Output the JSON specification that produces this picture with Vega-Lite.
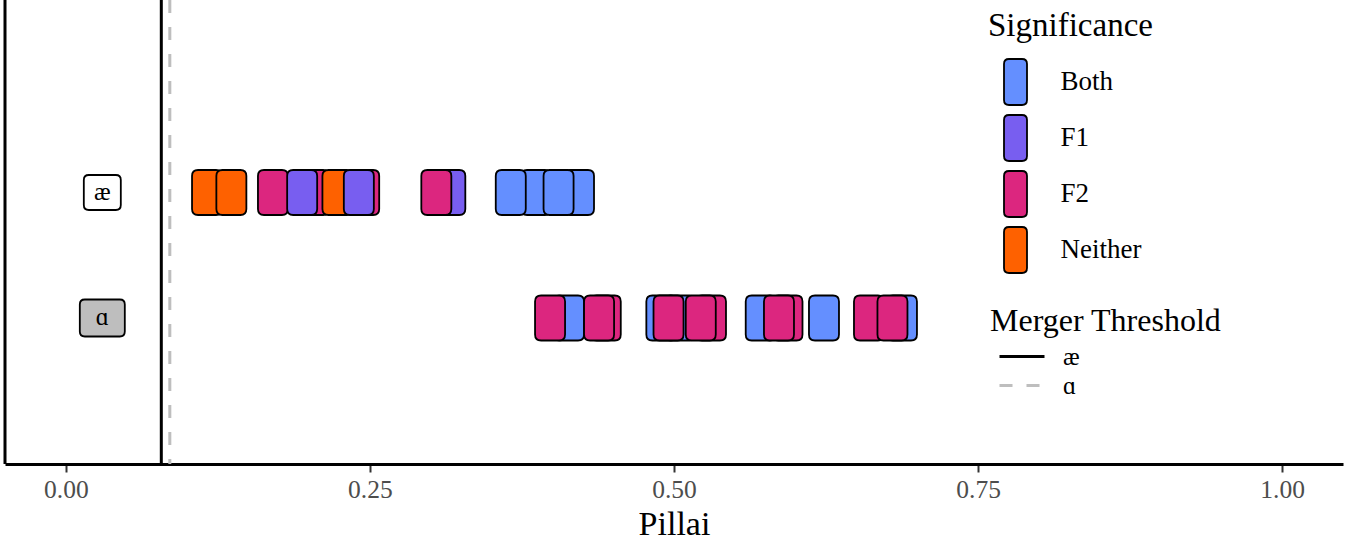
{
  "$schema": "https://vega.github.io/schema/vega-lite/v6.json",
  "width": 1338,
  "height": 464,
  "autosize": {"type": "none"},
  "padding": {"left": 5, "top": 0, "right": 7, "bottom": 81},
  "config": {"view": {"stroke": null}, "font": "Liberation Serif"},
  "datasets": {
    "thresholds": [
      {"threshold": "æ", "pillai": 0.0785},
      {"threshold": "ɑ", "pillai": 0.0855}
    ],
    "vowels": [
      {"vowel": "æ"},
      {"vowel": "ɑ"}
    ],
    "tokens": [
      {"vowel": "æ", "pillai": 0.1161, "sig": "Neither"},
      {"vowel": "æ", "pillai": 0.1361, "sig": "Neither"},
      {"vowel": "æ", "pillai": 0.1703, "sig": "F2"},
      {"vowel": "æ", "pillai": 0.2453, "sig": "F2"},
      {"vowel": "æ", "pillai": 0.2042, "sig": "F2"},
      {"vowel": "æ", "pillai": 0.1943, "sig": "F1"},
      {"vowel": "æ", "pillai": 0.2233, "sig": "Neither"},
      {"vowel": "æ", "pillai": 0.2409, "sig": "F1"},
      {"vowel": "æ", "pillai": 0.3161, "sig": "F1"},
      {"vowel": "æ", "pillai": 0.3046, "sig": "F2"},
      {"vowel": "æ", "pillai": 0.3866, "sig": "Both"},
      {"vowel": "æ", "pillai": 0.4219, "sig": "Both"},
      {"vowel": "æ", "pillai": 0.3658, "sig": "Both"},
      {"vowel": "æ", "pillai": 0.4051, "sig": "Both"},
      {"vowel": "ɑ", "pillai": 0.4137, "sig": "Both"},
      {"vowel": "ɑ", "pillai": 0.3981, "sig": "F2"},
      {"vowel": "ɑ", "pillai": 0.4439, "sig": "F2"},
      {"vowel": "ɑ", "pillai": 0.4384, "sig": "F2"},
      {"vowel": "ɑ", "pillai": 0.4896, "sig": "Both"},
      {"vowel": "ɑ", "pillai": 0.505, "sig": "Both"},
      {"vowel": "ɑ", "pillai": 0.4955, "sig": "F2"},
      {"vowel": "ɑ", "pillai": 0.5304, "sig": "F2"},
      {"vowel": "ɑ", "pillai": 0.522, "sig": "F2"},
      {"vowel": "ɑ", "pillai": 0.5713, "sig": "Both"},
      {"vowel": "ɑ", "pillai": 0.5933, "sig": "F2"},
      {"vowel": "ɑ", "pillai": 0.5863, "sig": "F2"},
      {"vowel": "ɑ", "pillai": 0.6233, "sig": "Both"},
      {"vowel": "ɑ", "pillai": 0.6874, "sig": "Both"},
      {"vowel": "ɑ", "pillai": 0.6603, "sig": "F2"},
      {"vowel": "ɑ", "pillai": 0.6796, "sig": "F2"}
    ]
  },
  "layer": [
    {
      "data": {"values": [{"axis": "y"}]},
      "mark": {"type": "rule", "strokeWidth": 3, "color": "black"},
      "encoding": {
        "x": {"datum": -0.05, "type": "quantitative"}
      }
    },
    {
      "data": {"name": "thresholds"},
      "mark": {"type": "rule", "strokeWidth": 3},
      "encoding": {
        "x": {
          "field": "pillai", "type": "quantitative",
          "scale": {"domain": [-0.05, 1.05], "nice": false, "zero": false},
          "axis": {
            "title": "Pillai", "values": [0, 0.25, 0.5, 0.75, 1], "format": ".2f",
            "grid": false, "domainColor": "black", "domainWidth": 3,
            "tickColor": "#333333", "tickWidth": 2, "tickSize": 8,
            "labelFont": "Liberation Serif", "labelFontSize": 25.5, "labelColor": "#4d4d4d", "labelPadding": 5,
            "titleFont": "Liberation Serif", "titleFontSize": 34, "titleFontWeight": "normal", "titleColor": "black", "titlePadding": 5
          }
        },
        "stroke": {
          "field": "threshold", "type": "nominal",
          "scale": {"domain": ["æ", "ɑ"], "range": ["black", "#bebebe"]},
          "legend": {
            "title": "Merger Threshold", "orient": "none", "legendX": 985, "legendY": 306, "padding": 0, "titleLimit": 500,
            "symbolType": "M-1.875,0L1.875,0", "symbolSize": 576, "symbolStrokeWidth": 3, "symbolFillColor": "transparent",
            "symbolOffset": 18.5, "labelOffset": 27.5, "rowPadding": 2, "titlePadding": 5,
            "titleFont": "Liberation Serif", "titleFontSize": 32, "titleFontWeight": "normal", "titleColor": "black",
            "labelFont": "Liberation Serif", "labelFontSize": 25, "labelColor": "black",
            "encode": {"symbols": {"update": {"strokeDash": {"signal": "datum.value === 'ɑ' ? [7.5, 7] : [1, 0]"}}}}
          }
        },
        "strokeDash": {
          "field": "threshold", "type": "nominal",
          "scale": {"domain": ["æ", "ɑ"], "range": [[1, 0], [13, 14]]},
          "legend": {
            "title": "Merger Threshold", "orient": "none", "legendX": 985, "legendY": 306, "padding": 0, "titleLimit": 500,
            "symbolType": "M-1.875,0L1.875,0", "symbolSize": 576, "symbolStrokeWidth": 3, "symbolFillColor": "transparent",
            "symbolOffset": 18.5, "labelOffset": 27.5, "rowPadding": 2, "titlePadding": 5,
            "titleFont": "Liberation Serif", "titleFontSize": 32, "titleFontWeight": "normal", "titleColor": "black",
            "labelFont": "Liberation Serif", "labelFontSize": 25, "labelColor": "black",
            "encode": {"symbols": {"update": {"strokeDash": {"signal": "datum.value === 'ɑ' ? [7.5, 7] : [1, 0]"}}}}
          }
        }
      }
    },
    {
      "data": {"name": "vowels"},
      "transform": [{"filter": "datum.vowel === 'æ'"}],
      "mark": {
        "type": "point", "filled": true, "opacity": 1, "fill": "white", "stroke": "black", "strokeWidth": 1.8, "size": 1225,
        "shape": "M-1.057,-0.714Q-1.057,-1,-0.771,-1L0.771,-1Q1.057,-1,1.057,-0.714L1.057,0.714Q1.057,1,0.771,1L-0.771,1Q-1.057,1,-1.057,0.714Z"
      },
      "encoding": {
        "x": {"datum": 0.03, "type": "quantitative"},
        "y": {"field": "vowel", "type": "nominal", "scale": {"type": "point", "domain": ["æ", "ɑ"], "range": [192.5, 318], "padding": 0}, "axis": null}
      }
    },
    {
      "data": {"name": "vowels"},
      "transform": [{"filter": "datum.vowel === 'ɑ'"}],
      "mark": {
        "type": "point", "filled": true, "opacity": 1, "fill": "#bebebe", "stroke": "black", "strokeWidth": 1.8, "size": 1369,
        "shape": "M-1.216,-0.73Q-1.216,-1,-0.946,-1L0.946,-1Q1.216,-1,1.216,-0.73L1.216,0.73Q1.216,1,0.946,1L-0.946,1Q-1.216,1,-1.216,0.73Z"
      },
      "encoding": {
        "x": {"datum": 0.03, "type": "quantitative"},
        "y": {"field": "vowel", "type": "nominal"}
      }
    },
    {
      "data": {"name": "vowels"},
      "mark": {"type": "text", "font": "Liberation Serif", "fontSize": 25, "color": "black", "baseline": "middle", "align": "center", "dy": -1},
      "encoding": {
        "x": {"datum": 0.03, "type": "quantitative"},
        "y": {"field": "vowel", "type": "nominal"},
        "text": {"field": "vowel"}
      }
    },
    {
      "data": {"name": "tokens"},
      "mark": {
        "type": "point", "filled": true, "opacity": 1, "stroke": "black", "strokeWidth": 1.8, "size": 2025,
        "shape": "M-0.667,-0.733Q-0.667,-1,-0.4,-1L0.4,-1Q0.667,-1,0.667,-0.733L0.667,0.733Q0.667,1,0.4,1L-0.4,1Q-0.667,1,-0.667,0.733Z"
      },
      "encoding": {
        "x": {"field": "pillai", "type": "quantitative"},
        "y": {"field": "vowel", "type": "nominal"},
        "fill": {
          "field": "sig", "type": "nominal",
          "scale": {"domain": ["Both", "F1", "F2", "Neither"], "range": ["#648FFF", "#785EF0", "#DC267F", "#FE6100"]},
          "legend": {
            "title": "Significance", "orient": "none", "legendX": 983, "legendY": 10, "padding": 0,
            "symbolType": "M-0.5,-0.783Q-0.5,-1,-0.283,-1L0.283,-1Q0.5,-1,0.5,-0.783L0.5,0.783Q0.5,1,0.283,1L-0.283,1Q-0.5,1,-0.5,0.783Z",
            "symbolSize": 2116, "symbolStrokeColor": "black", "symbolStrokeWidth": 1.8, "symbolOpacity": 1,
            "symbolOffset": 3.5, "labelOffset": 21, "rowPadding": 2, "titlePadding": 15,
            "titleFont": "Liberation Serif", "titleFontSize": 33, "titleFontWeight": "normal", "titleColor": "black",
            "labelFont": "Liberation Serif", "labelFontSize": 27, "labelColor": "black"
          }
        }
      }
    }
  ]
}
